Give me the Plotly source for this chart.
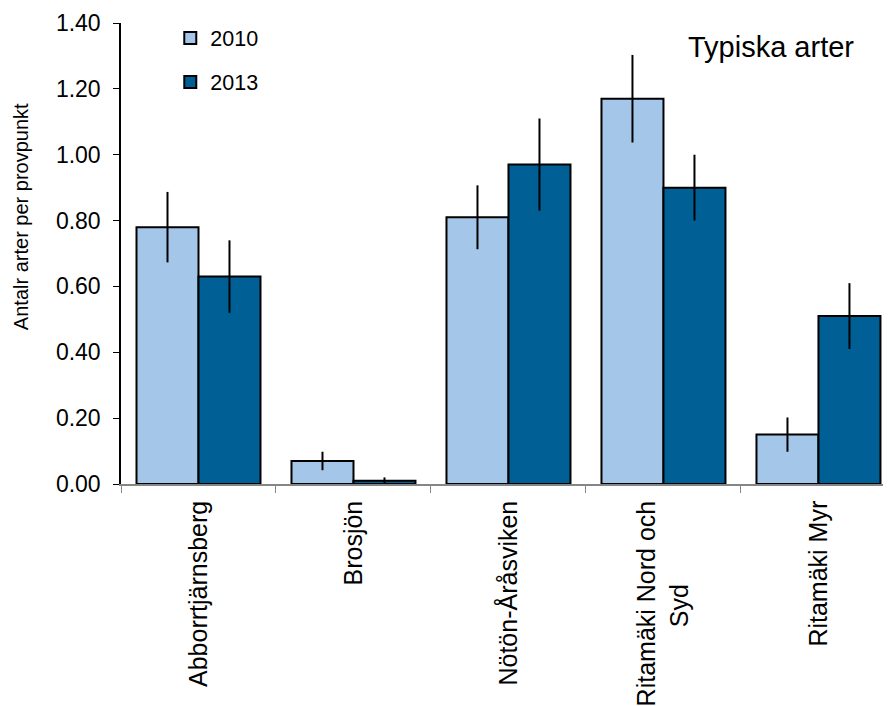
import plotly.graph_objects as go

categories = ["Abborrtjärnsberg", "Brosjön", "Nötön-Åråsviken", "Ritamäki Nord och Syd", "Ritamäki Myr"]
tick_labels = ["Abborrtjärnsberg", "Brosjön", "Nötön-Åråsviken",
               "Ritamäki Nord och<br>Syd" + "\u00a0" * 12, "Ritamäki Myr"]
values_2010 = [0.78, 0.07, 0.81, 1.17, 0.15]
errors_2010 = [0.107, 0.028, 0.097, 0.133, 0.052]
values_2013 = [0.63, 0.01, 0.97, 0.90, 0.51]
errors_2013 = [0.11, 0.01, 0.14, 0.10, 0.10]
y_ticks = [0.0, 0.2, 0.4, 0.6, 0.8, 1.0, 1.2, 1.4]
y_tick_labels = ["0.00", "0.20", "0.40", "0.60", "0.80", "1.00", "1.20", "1.40"]

FONT = "Liberation Sans, Arial, sans-serif"

fig = go.Figure()
fig.add_trace(go.Bar(
    name="2010", x=categories, y=values_2010, legendgroup="a",
    marker=dict(color="#A4C6E8", line=dict(color="black", width=2)),
    error_y=dict(type="data", array=errors_2010, color="black", thickness=2, width=0),
))
fig.add_trace(go.Bar(
    name="2013", x=categories, y=values_2013, legendgroup="b",
    marker=dict(color="#006096", line=dict(color="black", width=2)),
    error_y=dict(type="data", array=errors_2013, color="black", thickness=2, width=0),
))

# page has an 8px body margin: the figure starts at (8, 8)
fig.update_layout(
    width=883, height=698,
    margin=dict(l=113, r=0, t=14.5, b=222, autoexpand=False),
    paper_bgcolor="white", plot_bgcolor="white",
    barmode="group", bargap=0.2, bargroupgap=0,
    font=dict(family=FONT, color="black"),
    showlegend=True,
    legend=dict(x=0.064, y=1.012, xanchor="left", yanchor="top",
                font=dict(size=21.5, family=FONT), bgcolor="rgba(0,0,0,0)",
                tracegroupgap=13, traceorder="grouped"),
    xaxis=dict(
        type="category", categoryorder="array", categoryarray=categories,
        tickmode="array", tickvals=categories, ticktext=tick_labels,
        range=[-0.5, 4.468], tickson="boundaries",
        ticks="outside", ticklen=7, tickcolor="#868686", tickwidth=1,
        showline=True, linecolor="#868686", linewidth=1.5,
        tickangle=-90, tickfont=dict(size=25, family=FONT), ticklabelstandoff=5,
        showgrid=False, zeroline=False, automargin=False, fixedrange=True,
    ),
    yaxis=dict(
        range=[0, 1.4], tickmode="array", tickvals=y_ticks, ticktext=y_tick_labels,
        ticks="outside", ticklen=6, tickcolor="black", tickwidth=1,
        showline=True, linecolor="black", linewidth=1.5,
        tickfont=dict(size=23, family=FONT), ticklabelstandoff=8,
        showgrid=False, zeroline=False, automargin=False, fixedrange=True,
    ),
    annotations=[
        dict(text="Antalr arter per provpunkt", xref="paper", yref="paper",
             x=-0.1305, y=0.58, xanchor="center", yanchor="middle",
             textangle=-90, showarrow=False, font=dict(size=20, family=FONT)),
        dict(text="Typiska arter", xref="paper", yref="paper",
             x=0.734, y=0.949, xanchor="left", yanchor="middle",
             showarrow=False, font=dict(size=29, family=FONT)),
    ],
)

fig.write_html("out.html")
